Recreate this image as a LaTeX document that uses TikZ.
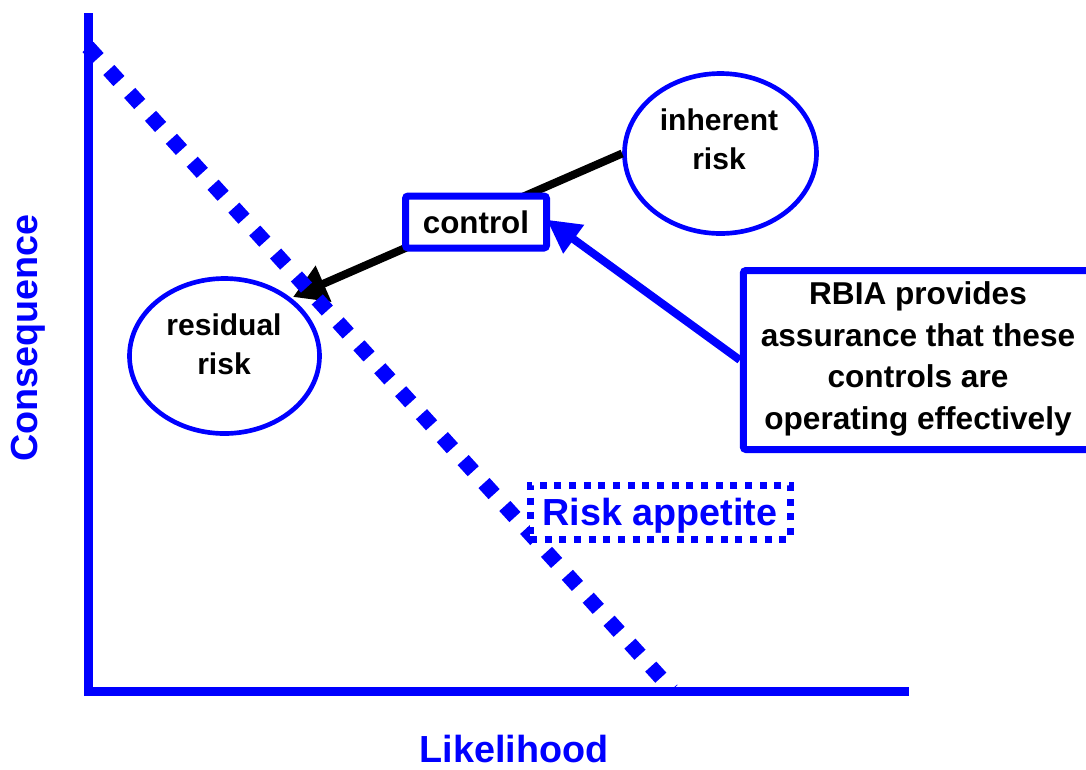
\documentclass[tikz,border=0pt]{standalone}
\usepackage{fontspec}
\setmainfont{Liberation Sans}
\usetikzlibrary{arrows.meta,shapes.geometric}
\definecolor{pblue}{RGB}{0,0,255}
\begin{document}
\begin{tikzpicture}[x=0.75pt,y=-0.75pt,
  axisline/.style={pblue,line width=6.75pt,line join=miter},
  ell/.style={ellipse,draw=pblue,line width=3.5pt,inner sep=0pt},
  ellbl/.style={font=\bfseries\fontsize{22.5}{29.25}\selectfont,align=center,text=black,inner sep=0pt},
  bluelbl/.style={font=\bfseries\fontsize{28.3}{34}\selectfont,text=pblue,inner sep=0pt},
  boxnode/.style={draw=pblue,fill=white,line width=5.25pt,rounded corners=2pt,inner sep=0pt},
  blackarrow/.style={line width=6pt,-{Triangle[length=25pt,width=28pt]}},
  bluearrow/.style={pblue,line width=6pt,-{Triangle[length=25pt,width=25pt]}},
  riskline/.style={pblue,line width=11.25pt,dash pattern=on 11.25pt off 12pt},
  rabox/.style={draw=pblue,fill=white,line width=5.25pt,dash pattern=on 5.25pt off 5.75pt,inner sep=0pt}
]
\useasboundingbox (0,0) rectangle (1086,769);

% axes
\coordinate (ytop) at (88.5,13);
\coordinate (origin) at (88.5,691.5);
\coordinate (xend) at (909,691.5);
\draw[axisline] (ytop) -- (origin) -- (xend);

% ellipses
\node[ell,minimum width=144pt,minimum height=120pt] (inh) at (720.5,153.5) {};
\node[ellbl] (inht) at (719,139) {inherent\\risk};
\node[ell,minimum width=142.5pt,minimum height=116.25pt] (res) at (224.5,356) {};
\node[ellbl] (rest) at (224,344) {residual\\risk};

% black arrow behind control box
\coordinate (rtip) at (293,297);
\draw[blackarrow] (inh.west) -- (rtip);

% control box
\node[boxnode,minimum width=105.75pt,minimum height=39pt,
      font=\bfseries\fontsize{23.5}{28}\selectfont] (ctrl) at (476,222) {control};

% RBIA box
\node[boxnode,minimum width=268pt,minimum height=134.25pt] (rbia) at (922,360) {};
\node[font=\bfseries\fontsize{23.7}{31.3}\selectfont,align=center,inner sep=0pt] (rbiat) at (918,359)
  {RBIA provides\\assurance that these\\controls are\\operating effectively};
\draw[bluearrow,shorten >=-3pt] (rbia.west) -- (ctrl.east);

% risk appetite line
\coordinate (ra1) at (88,47);
\coordinate (ra2) at (672,690);
\draw[riskline] (ra1) -- (ra2);

% risk appetite box
\node[rabox,minimum width=195pt,minimum height=40.5pt] (rab) at (660,512) {};
\node[bluelbl,anchor=base] (rabt) at (660,525) {Risk appetite};

% axis labels
\node[bluelbl,rotate=90] (conseq) at (28,338) {Consequence};
\node[bluelbl,anchor=base] (likel) at (514,762) {Likelihood};
\end{tikzpicture}
\end{document}
